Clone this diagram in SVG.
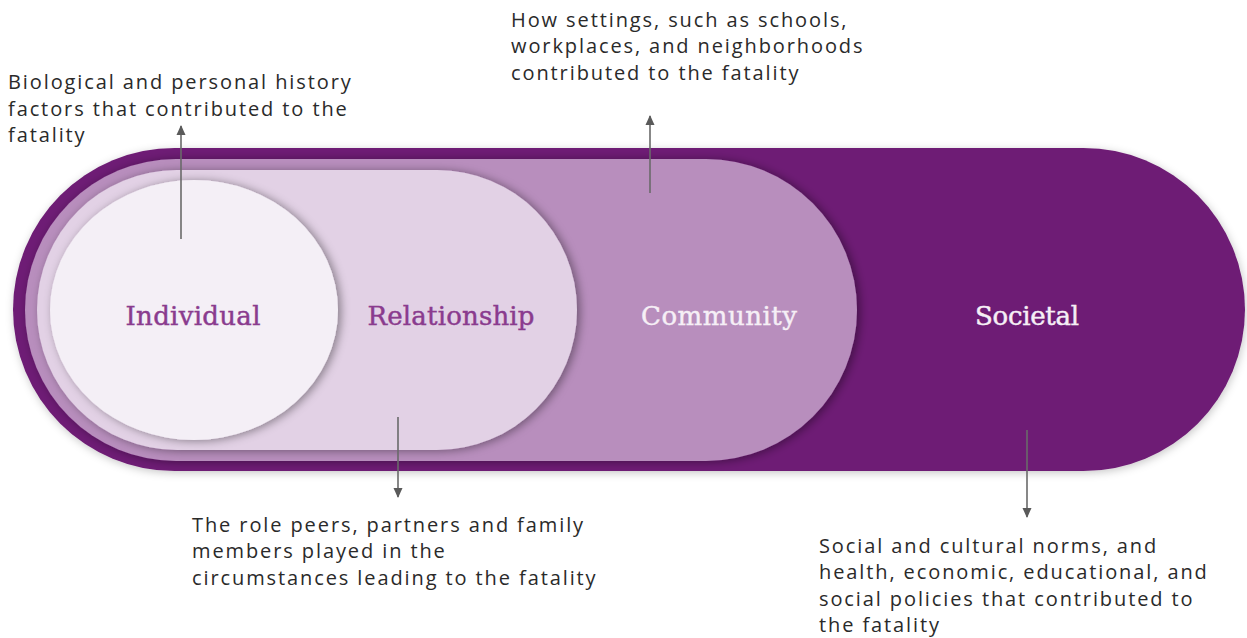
<svg xmlns="http://www.w3.org/2000/svg" width="1247" height="638" viewBox="0 0 1247 638">
  <defs>
    <filter id="shade" x="-10%" y="-20%" width="120%" height="140%">
      <feDropShadow dx="3" dy="1" stdDeviation="5" flood-color="#000" flood-opacity="0.4"/>
    </filter>
    <filter id="halo" x="-5%" y="-10%" width="110%" height="120%">
      <feDropShadow dx="1" dy="2" stdDeviation="4" flood-color="#000" flood-opacity="0.22"/>
    </filter>
    <marker id="arrow" viewBox="0 0 10 10" refX="9" refY="5" markerWidth="10" markerHeight="10" markerUnits="userSpaceOnUse" orient="auto">
      <path d="M0,0.5 L10,5 L0,9.5 Z" fill="#5a5a5a"/>
    </marker>
    <style>
      .lvl { font-family: "DejaVu Serif", "Liberation Serif", serif; font-size: 26px; text-anchor: middle; stroke-width: 0.45; }
      .dark { fill: #8a3b8e; stroke: #8a3b8e; }
      .light { fill: #f6eff6; stroke: #f6eff6; }
      .note { font-family: "Open Sans", "Noto Sans", "Liberation Sans", sans-serif; font-size: 20px; letter-spacing: 1.9px; fill: #2a2a2a; }
      .conn { stroke: #6a6a6a; stroke-width: 1.6; fill: none; marker-end: url(#arrow); }
    </style>
  </defs>

  <rect width="1247" height="638" fill="#ffffff"/>

  <!-- nested levels, outermost first -->
  <g id="societal">
    <rect x="13" y="148" width="1232" height="323" rx="161.5" fill="#6e1f74" filter="url(#halo)"/>
    <text class="lvl light" x="1027" y="325" textLength="104">Societal</text>
  </g>
  <g id="community">
    <rect x="25" y="159" width="832" height="302" rx="151" fill="#b88ebd" filter="url(#shade)"/>
    <text class="lvl light" x="719" y="325" textLength="156">Community</text>
  </g>
  <g id="relationship">
    <rect x="37" y="170" width="540" height="280" rx="140" fill="#e2d1e5" filter="url(#shade)"/>
    <text class="lvl dark" x="451" y="325" textLength="167">Relationship</text>
  </g>
  <g id="individual">
    <ellipse cx="194" cy="310" rx="144" ry="130" fill="#f4eff6" filter="url(#shade)"/>
    <text class="lvl dark" x="193" y="325" textLength="135">Individual</text>
  </g>

  <!-- pointers to the descriptions -->
  <g id="connectors">
    <line class="conn" x1="181" y1="239" x2="181" y2="126"/>
    <line class="conn" x1="650" y1="193" x2="650" y2="116"/>
    <line class="conn" x1="398" y1="417" x2="398" y2="497"/>
    <line class="conn" x1="1027" y1="430" x2="1027" y2="517"/>
  </g>

  <!-- descriptions -->
  <g id="note-individual">
    <text class="note" x="8" y="89">Biological and personal history</text>
    <text class="note" x="8" y="116">factors that contributed to the</text>
    <text class="note" x="8" y="142">fatality</text>
  </g>
  <g id="note-community">
    <text class="note" x="511" y="27">How settings, such as schools,</text>
    <text class="note" x="511" y="53">workplaces, and neighborhoods</text>
    <text class="note" x="511" y="80">contributed to the fatality</text>
  </g>
  <g id="note-relationship">
    <text class="note" x="192" y="532">The role peers, partners and family</text>
    <text class="note" x="192" y="558">members played in the</text>
    <text class="note" x="192" y="585">circumstances leading to the fatality</text>
  </g>
  <g id="note-societal">
    <text class="note" x="819" y="553">Social and cultural norms, and</text>
    <text class="note" x="819" y="579">health, economic, educational, and</text>
    <text class="note" x="819" y="606">social policies that contributed to</text>
    <text class="note" x="819" y="632">the fatality</text>
  </g>
</svg>
